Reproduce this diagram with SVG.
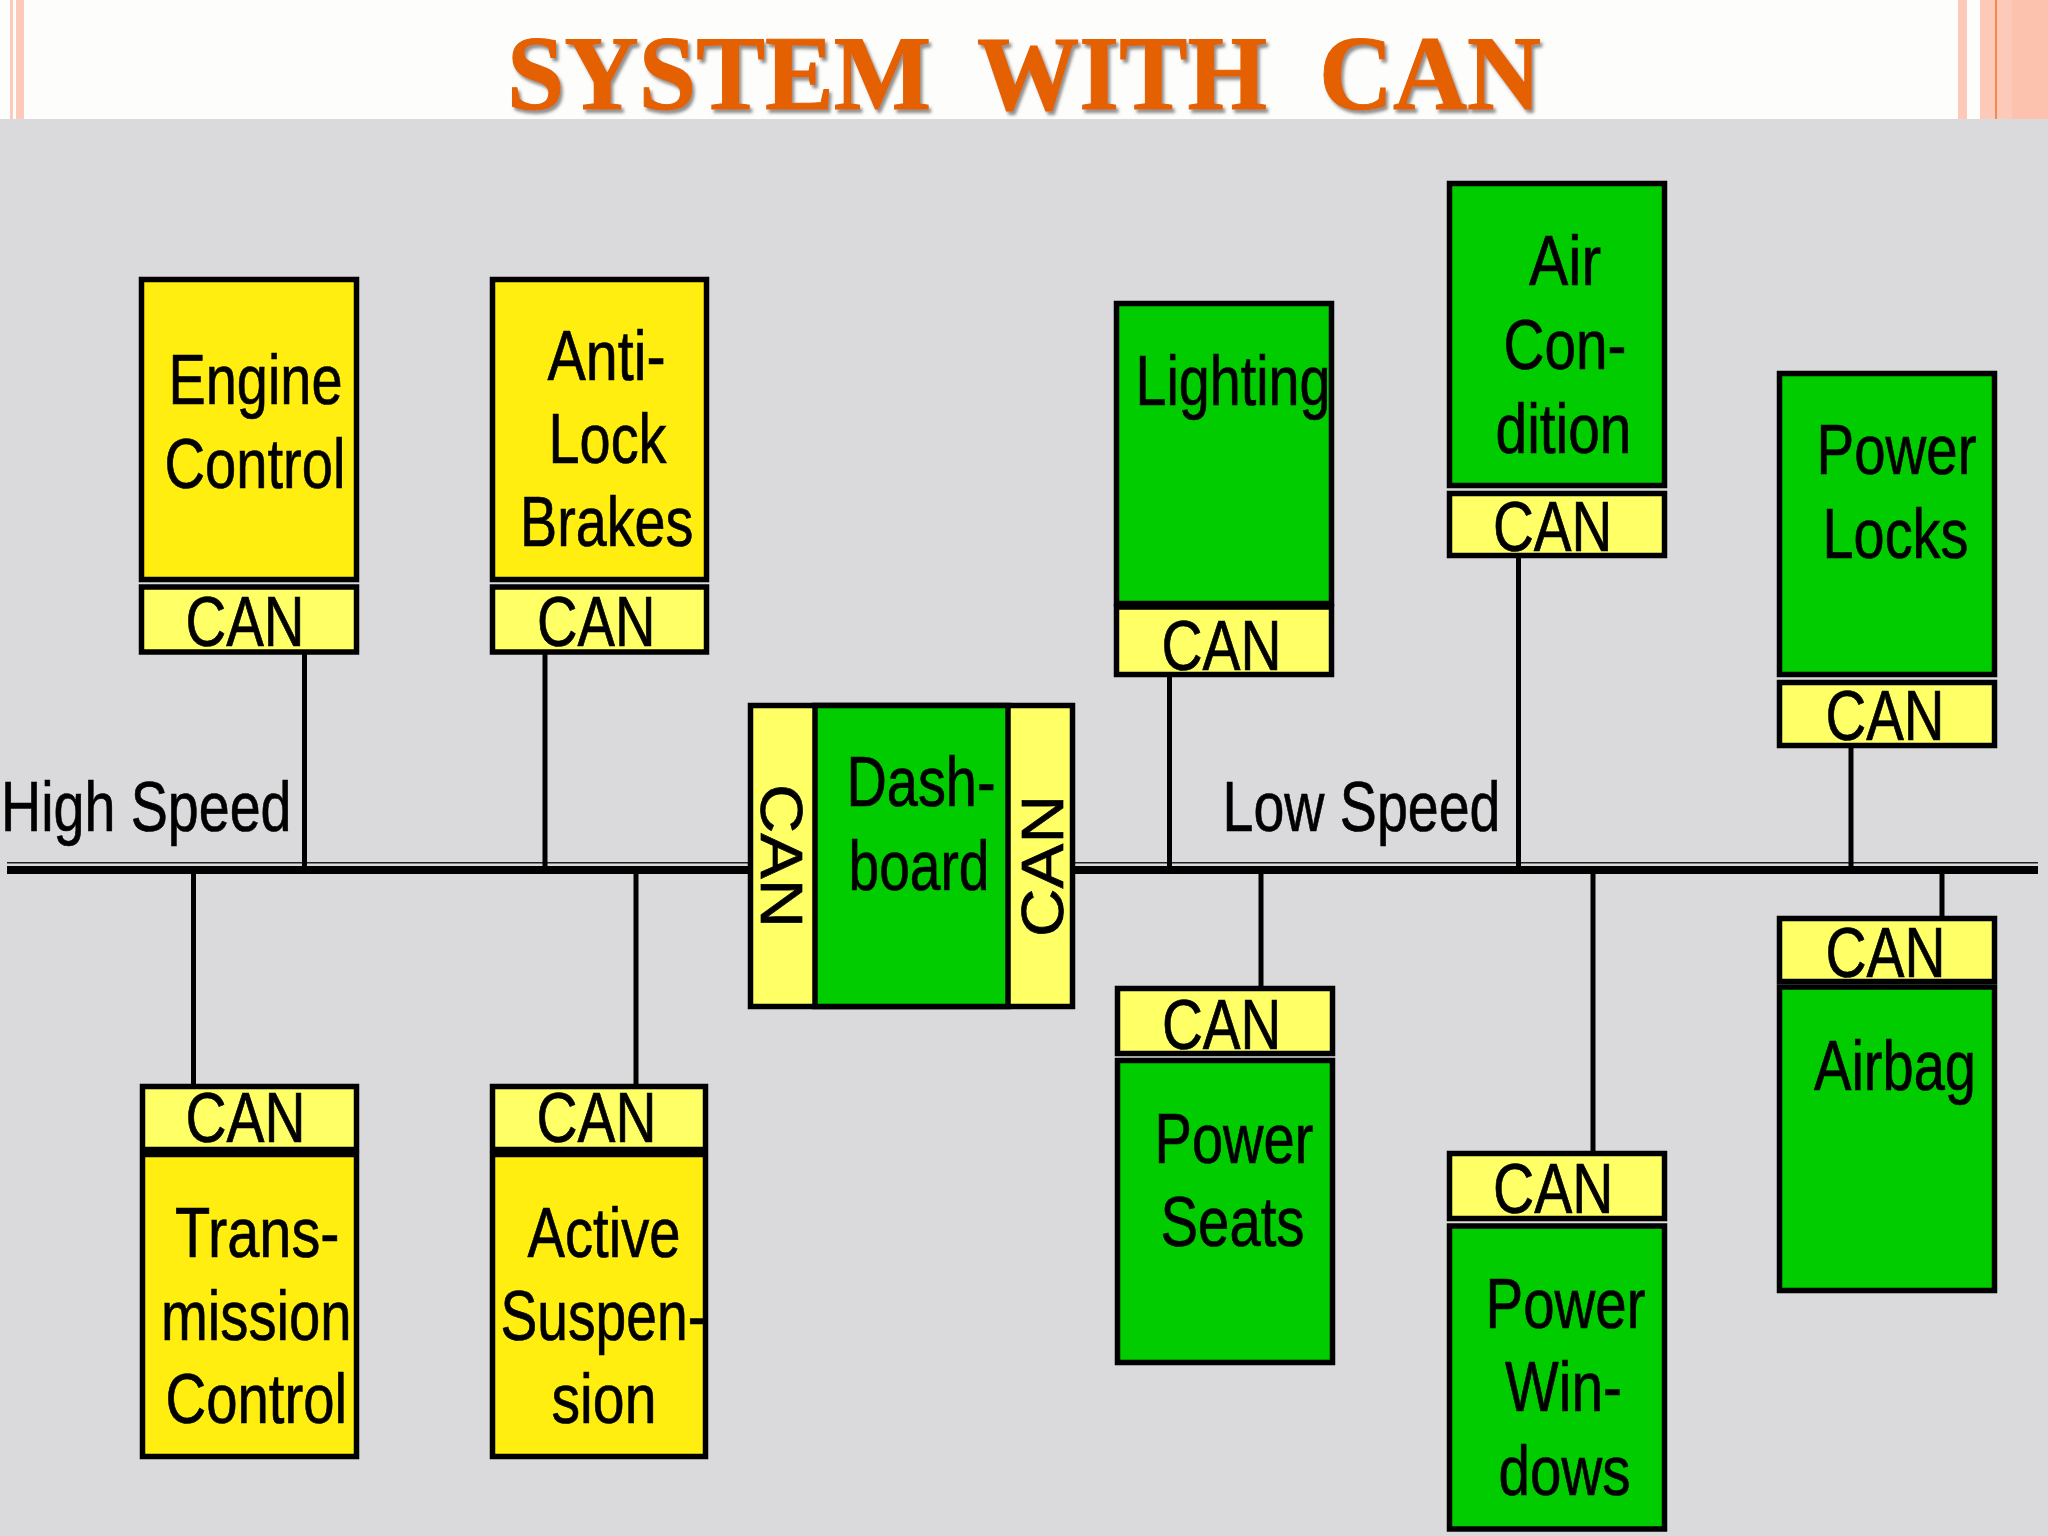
<svg xmlns="http://www.w3.org/2000/svg" width="2048" height="1536" viewBox="0 0 2048 1536">
<style>
text{font-family:"Liberation Sans",Arial,sans-serif;font-size:71px;fill:#000;stroke:#000;stroke-width:.7}
text.t{font-family:"Liberation Serif","Times New Roman",serif;font-weight:bold;font-size:105px;fill:#e46000;stroke:#e46000;stroke-width:1}
.y{fill:#ffee10;stroke:#000;stroke-width:5.5}
.p{fill:#ffff66;stroke:#000;stroke-width:5.5}
.g{fill:#00cc00;stroke:#000;stroke-width:5.5}
.s{stroke:#000;stroke-width:5;fill:none}
text.r{font-size:60px}
</style>
<defs><filter id="sh" x="-5%" y="-10%" width="110%" height="125%"><feDropShadow dx="2.500" dy="3.500" stdDeviation="1.500" flood-color="#555" flood-opacity=".65"/></filter></defs>
<rect width="2048" height="1536" fill="#dadadc"/>
<g id="header">
<rect width="2048" height="119" fill="#fdfefb"/>
<rect x="10" width="3" height="119" fill="#fdc9b8"/>
<rect x="16" width="8" height="119" fill="#fdc9b8"/>
<rect x="1958" width="9" height="119" fill="#fdc9b8"/>
<rect x="1980" width="68" height="119" fill="#fdc9b8"/>
<rect x="1995" width="2" height="119" fill="#f08a50"/>
<rect x="2012" width="36" height="119" fill="#fcc2ae"/>
<text class="t" y="109" filter="url(#sh)"><tspan x="507" textLength="424" lengthAdjust="spacingAndGlyphs">SYSTEM</tspan><tspan x="977" textLength="290" lengthAdjust="spacingAndGlyphs">WITH</tspan><tspan x="1319" textLength="222" lengthAdjust="spacingAndGlyphs">CAN</tspan></text>
</g>
<g id="connectors">
<rect x="7" y="866" width="2031" height="8"/>
<rect x="7" y="862" width="2031" height="1.500" fill="#222"/>
<path class="s" d="M304.500 654V870M545 654V870M193.500 870V1084M636 870V1084M1169.500 677V870M1518.500 558V870M1851 747V870M1261 870V986M1593 870V1151M1942 870V916"/>
</g>
<g id="labels">
<text x="1" y="831" textLength="290.500" lengthAdjust="spacingAndGlyphs">High Speed</text>
<text x="1222.500" y="831" textLength="278" lengthAdjust="spacingAndGlyphs">Low Speed</text>
</g>
<g id="engine">
<rect class="y" x="141.500" y="279.500" width="215" height="300"/>
<rect class="p" x="141.500" y="587" width="215" height="65"/>
<text x="168.500" y="404" textLength="174" lengthAdjust="spacingAndGlyphs">Engine</text>
<text x="164.500" y="488" textLength="181" lengthAdjust="spacingAndGlyphs">Control</text>
<text x="185.500" y="646" textLength="119" lengthAdjust="spacingAndGlyphs">CAN</text>
</g>
<g id="antilock">
<rect class="y" x="492.500" y="279.500" width="214" height="300"/>
<rect class="p" x="492.500" y="587" width="214" height="65"/>
<text x="547.500" y="380" textLength="118" lengthAdjust="spacingAndGlyphs">Anti-</text>
<text x="548.500" y="463" textLength="118" lengthAdjust="spacingAndGlyphs">Lock</text>
<text x="520" y="546" textLength="173.500" lengthAdjust="spacingAndGlyphs">Brakes</text>
<text x="537" y="646" textLength="118.500" lengthAdjust="spacingAndGlyphs">CAN</text>
</g>
<g id="transmission">
<rect class="p" x="142.500" y="1086.500" width="214" height="63"/>
<rect class="y" x="142.500" y="1154.500" width="214" height="302"/>
<text x="185.500" y="1142" textLength="120" lengthAdjust="spacingAndGlyphs">CAN</text>
<text x="175" y="1257" textLength="164.500" lengthAdjust="spacingAndGlyphs">Trans-</text>
<text x="161" y="1340" textLength="190.500" lengthAdjust="spacingAndGlyphs">mission</text>
<text x="165.500" y="1423" textLength="181.500" lengthAdjust="spacingAndGlyphs">Control</text>
</g>
<g id="suspension">
<rect class="p" x="492.500" y="1086.500" width="213" height="63"/>
<rect class="y" x="492.500" y="1154.500" width="213" height="302"/>
<text x="536.500" y="1142" textLength="120" lengthAdjust="spacingAndGlyphs">CAN</text>
<text x="527.500" y="1257" textLength="153" lengthAdjust="spacingAndGlyphs">Active</text>
<text x="500.500" y="1340" textLength="205.600" lengthAdjust="spacingAndGlyphs">Suspen-</text>
<text x="551.500" y="1423" textLength="105" lengthAdjust="spacingAndGlyphs">sion</text>
</g>
<g id="dashboard">
<rect class="p" x="750.500" y="705.500" width="322" height="301"/>
<rect class="g" x="815" y="705.500" width="193" height="301"/>
<text x="846.500" y="806" textLength="149" lengthAdjust="spacingAndGlyphs">Dash-</text>
<text x="848.500" y="890" textLength="141" lengthAdjust="spacingAndGlyphs">board</text>
<text class="r" transform="translate(761 784) rotate(90)" textLength="144" lengthAdjust="spacingAndGlyphs">CAN</text>
<text class="r" transform="translate(1063 937) rotate(-90)" textLength="142" lengthAdjust="spacingAndGlyphs">CAN</text>
</g>
<g id="lighting">
<rect class="g" x="1116.500" y="303.500" width="215" height="300"/>
<rect class="p" x="1116.500" y="607" width="215" height="67.500"/>
<text x="1135.500" y="405" textLength="195" lengthAdjust="spacingAndGlyphs">Lighting</text>
<text x="1161.500" y="670" textLength="120" lengthAdjust="spacingAndGlyphs">CAN</text>
</g>
<g id="aircon">
<rect class="g" x="1449.500" y="183.500" width="215" height="302"/>
<rect class="p" x="1449.500" y="493.500" width="215" height="62"/>
<text x="1529" y="285" textLength="72" lengthAdjust="spacingAndGlyphs">Air</text>
<text x="1503.500" y="369" textLength="123" lengthAdjust="spacingAndGlyphs">Con-</text>
<text x="1495.500" y="453" textLength="136" lengthAdjust="spacingAndGlyphs">dition</text>
<text x="1493" y="551" textLength="119.500" lengthAdjust="spacingAndGlyphs">CAN</text>
</g>
<g id="powerlocks">
<rect class="g" x="1779.500" y="373.500" width="215" height="301"/>
<rect class="p" x="1779.500" y="682.500" width="215" height="63"/>
<text x="1816.500" y="474" textLength="160" lengthAdjust="spacingAndGlyphs">Power</text>
<text x="1822.500" y="558" textLength="146" lengthAdjust="spacingAndGlyphs">Locks</text>
<text x="1825.500" y="740" textLength="119" lengthAdjust="spacingAndGlyphs">CAN</text>
</g>
<g id="powerseats">
<rect class="p" x="1117.500" y="988.500" width="215" height="65"/>
<rect class="g" x="1117.500" y="1060.500" width="215" height="302"/>
<text x="1162" y="1048.500" textLength="119.500" lengthAdjust="spacingAndGlyphs">CAN</text>
<text x="1154.500" y="1163" textLength="159" lengthAdjust="spacingAndGlyphs">Power</text>
<text x="1160.500" y="1246" textLength="144" lengthAdjust="spacingAndGlyphs">Seats</text>
</g>
<g id="powerwindows">
<rect class="p" x="1449.500" y="1153.500" width="215" height="65"/>
<rect class="g" x="1449.500" y="1226" width="215" height="303"/>
<text x="1493" y="1213" textLength="120.500" lengthAdjust="spacingAndGlyphs">CAN</text>
<text x="1485.500" y="1328" textLength="160" lengthAdjust="spacingAndGlyphs">Power</text>
<text x="1505" y="1411" textLength="117" lengthAdjust="spacingAndGlyphs">Win-</text>
<text x="1498.500" y="1495" textLength="132" lengthAdjust="spacingAndGlyphs">dows</text>
</g>
<g id="airbag">
<rect class="p" x="1779.500" y="918.500" width="215" height="63"/>
<rect class="g" x="1779.500" y="987" width="215" height="303.500"/>
<text x="1825.500" y="977" textLength="120" lengthAdjust="spacingAndGlyphs">CAN</text>
<text x="1814" y="1089.500" textLength="162" lengthAdjust="spacingAndGlyphs">Airbag</text>
</g>
</svg>
